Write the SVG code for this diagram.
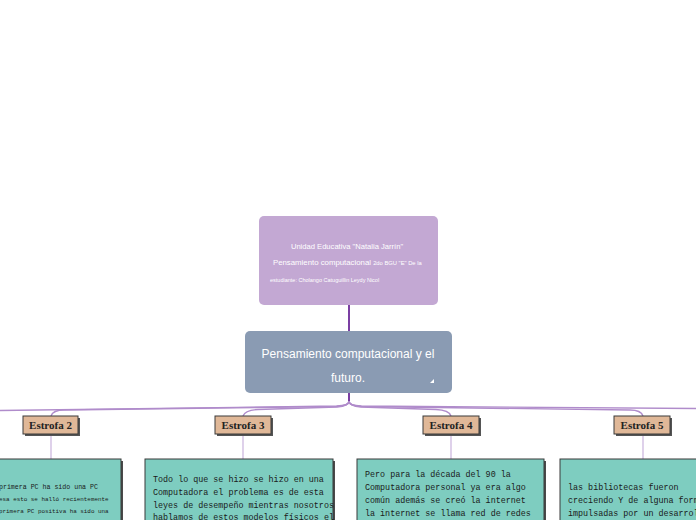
<svg xmlns="http://www.w3.org/2000/svg" width="696" height="520" viewBox="0 0 696 520">
<style>
.sans{font-family:"Liberation Sans","Noto Sans",sans-serif;fill:#ffffff}
.estrofa rect.b{fill:#e0b898;stroke:#3a3a3a;stroke-width:1}
.estrofa rect.s{fill:#555555}
.estrofa text{font-family:"Liberation Serif",serif;font-weight:bold;font-size:11px;fill:#222;text-anchor:middle}
.box rect.b{fill:#7ecdc0;stroke:#3a3a3a;stroke-width:1}
.box rect.s{fill:#4a4a4a}
.box text{font-family:"Liberation Mono","DejaVu Sans Mono",monospace;font-size:8.4px;fill:#1a1a1a}
.box text.md{font-size:6.6px}
.box text.sm{font-size:5.9px}
.branch{fill:none;stroke:#b08ccb;stroke-width:1.4}
.stem{fill:none;stroke:#c9b2dd;stroke-width:1.2}
</style>
<rect width="696" height="520" fill="#ffffff"/>
<g id="connectors">
<path d="M349,305 L349,331" fill="none" stroke="#7b3fa3" stroke-width="2"/>
<path d="M349,393 L349,402" fill="none" stroke="#7b3fa3" stroke-width="2"/>
<path class="branch" d="M349,401 Q349,405.5 337,406 L0,410.5 L-10,410.5"/>
<path class="branch" d="M349,401 Q349,406 336,406.5 L64,410 Q53,410 51,416"/>
<path class="branch" d="M349,401 Q349,406 337,407 L258,409.5 Q245,410 243,416"/>
<path class="branch" d="M349,401 Q349,406 361,407 L436,409.5 Q449,410 451,416"/>
<path class="branch" d="M349,401 Q349,406 362,406.5 L630,410 Q641,410 643,416"/>
<path class="branch" d="M349,401 Q349,405.5 361,406 L696,408.5 L706,408.5"/>
<path class="stem" d="M51,434 L51,459"/>
<path class="stem" d="M243,434 L243,459"/>
<path class="stem" d="M451,434 L451,459"/>
<path class="stem" d="M643,434 L643,459"/>
</g>
<g id="top">
<rect x="259" y="216" width="179" height="89" rx="5" fill="#c3a8d3"/>
<text class="sans" x="347" y="249" font-size="7.6" text-anchor="middle">Unidad Educativa "Natalia Jarrín"</text>
<text class="sans" x="273" y="265" font-size="7.8">Pensamiento computacional <tspan font-size="5.8">2do BGU "E" De la</tspan></text>
<text class="sans" x="270" y="282" font-size="5.5">estudiante: Cholango Catuguillin Leydy Nicol</text>
</g>
<g id="main">
<rect x="245" y="331" width="207" height="62" rx="5" fill="#8a9bb3"/>
<text class="sans" x="348" y="358" font-size="12" text-anchor="middle">Pensamiento computacional y el</text>
<text class="sans" x="348" y="382" font-size="12" text-anchor="middle">futuro.</text>
<path d="M434,379 L434,383 L430,383 Z" fill="#ffffff"/>
</g>
<g id="estrofa2" class="estrofa">
<rect class="s" x="25" y="418" width="55" height="18"/>
<rect class="b" x="23" y="416" width="55" height="18"/>
<text x="50.5" y="429">Estrofa 2</text>
</g>
<g id="estrofa3" class="estrofa">
<rect class="s" x="217" y="418" width="56" height="18"/>
<rect class="b" x="215" y="416" width="56" height="18"/>
<text x="243" y="429">Estrofa 3</text>
</g>
<g id="estrofa4" class="estrofa">
<rect class="s" x="425" y="418" width="56" height="18"/>
<rect class="b" x="423" y="416" width="56" height="18"/>
<text x="451" y="429">Estrofa 4</text>
</g>
<g id="estrofa5" class="estrofa">
<rect class="s" x="616" y="418" width="56" height="18"/>
<rect class="b" x="614" y="416" width="56" height="18"/>
<text x="642" y="429">Estrofa 5</text>
</g>
<g id="box2" class="box">
<rect class="s" x="-60" y="461" width="183" height="70"/>
<rect class="b" x="-62" y="459" width="183" height="70"/>
<text class="md" x="-1" y="489">primera PC ha sido una PC</text>
<text class="sm" x="-1" y="501">esa esto se halló recientemente</text>
<text class="sm" x="-1" y="513">primera PC positiva ha sido una</text>
</g>
<g id="box3" class="box">
<rect class="s" x="147" y="461" width="188" height="70"/>
<rect class="b" x="145" y="459" width="188" height="70"/>
<text x="153" y="482">Todo lo que se hizo se hizo en una</text>
<text x="153" y="495">Computadora el problema es de esta</text>
<text x="153" y="508">leyes de desempeño mientras nosotros</text>
<text x="153" y="520">hablamos de estos modelos físicos el</text>
</g>
<g id="box4" class="box">
<rect class="s" x="359" y="461" width="187" height="70"/>
<rect class="b" x="357" y="459" width="187" height="70"/>
<text x="365" y="477">Pero para la década del 90 la</text>
<text x="365" y="490">Computadora personal ya era algo</text>
<text x="365" y="503">común además se creó la internet</text>
<text x="365" y="516">la internet se llama red de redes</text>
</g>
<g id="box5" class="box">
<rect class="s" x="562" y="461" width="160" height="70"/>
<rect class="b" x="560" y="459" width="160" height="70"/>
<text x="568" y="490">las bibliotecas fueron</text>
<text x="568" y="503">creciendo Y de alguna forma</text>
<text x="568" y="516">impulsadas por un desarrollo</text>
</g>
</svg>
